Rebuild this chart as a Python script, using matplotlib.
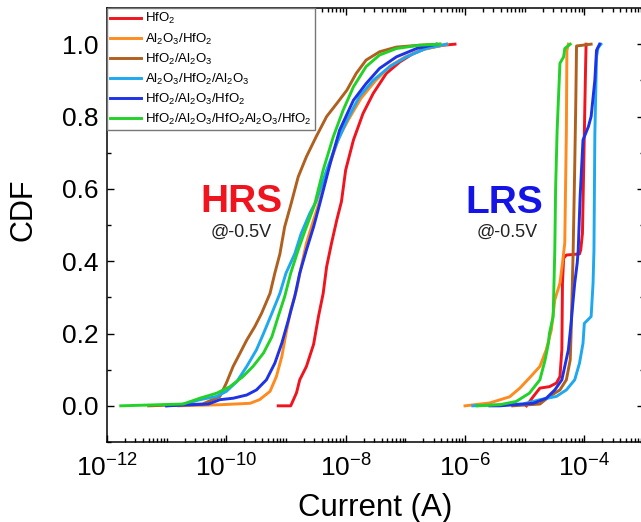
import matplotlib
matplotlib.use("Agg")
import matplotlib.pyplot as plt
from matplotlib.ticker import LogLocator, MultipleLocator, NullFormatter

plt.rcParams['font.family'] = ['Liberation Sans', 'DejaVu Sans']
plt.rcParams['mathtext.fontset'] = 'custom'
plt.rcParams['mathtext.rm'] = 'Liberation Sans'
plt.rcParams['mathtext.it'] = 'Liberation Sans:italic'
plt.rcParams['mathtext.bf'] = 'Liberation Sans:bold'

# stack names, legend order
labels = [
    r'HfO$_2$',
    r'Al$_2$O$_3$/HfO$_2$',
    r'HfO$_2$/Al$_2$O$_3$',
    r'Al$_2$O$_3$/HfO$_2$/Al$_2$O$_3$',
    r'HfO$_2$/Al$_2$O$_3$/HfO$_2$',
    r'HfO$_2$/Al$_2$O$_3$/HfO$_2$Al$_2$O$_3$/HfO$_2$',
]
colors = ['#f0141e', '#ff8a1e', '#b0601e', '#1ea8f0', '#1e32e6', '#22d228']

# HRS read current (A) and CDF at -0.5 V
hfo2_hrs_i = [7.4e-10, 1.2e-9, 1.5e-9, 1.7e-9, 2.2e-9, 2.9e-9, 3.5e-9, 4.2e-9, 4.8e-9,
              5.8e-9, 7.1e-9, 8.5e-9, 1.0e-8, 1.35e-8, 1.95e-8, 2.9e-8, 4.8e-8, 8.1e-8,
              1.35e-7, 2.2e-7, 4.3e-7, 6.8e-7]
hfo2_hrs_cdf = [0, 0, .036, .072, .109, .17, .247, .311, .385, .45, .514, .565, .652,
                .735, .808, .864, .919, .951, .974, .988, .997, 1.0]

ah_hrs_i = [1.6e-11, 7.8e-11, 2.5e-10, 3.6e-10, 5.4e-10, 6.9e-10, 8.5e-10, 1.0e-9, 1.2e-9,
            1.5e-9, 1.8e-9, 2.2e-9, 2.9e-9, 3.7e-9, 5.0e-9, 7.6e-9, 1.1e-8, 1.8e-8,
            3.2e-8, 5.6e-8, 1.0e-7, 2.0e-7, 5.0e-7]
ah_hrs_cdf = [0, .003, .007, .017, .04, .081, .136, .20, .265, .32, .385, .45, .514,
              .569, .65, .74, .79, .85, .90, .94, .965, .985, 1.0]

ha_hrs_i = [5.0e-12, 4.0e-11, 7.8e-11, 1.0e-10, 1.3e-10, 1.7e-10, 2.2e-10, 3.0e-10,
            3.9e-10, 5.4e-10, 6.5e-10, 7.9e-10, 9.5e-10, 1.2e-9, 1.6e-9, 2.2e-9, 3.2e-9,
            4.8e-9, 7.1e-9, 1.05e-8, 1.5e-8, 2.2e-8, 3.7e-8, 7.1e-8, 1.7e-7, 3.8e-7]
ha_hrs_cdf = [0, .005, .026, .063, .109, .146, .182, .219, .256, .311, .367, .42, .495,
              .555, .633, .689, .744, .80, .836, .873, .919, .956, .979, .992, .997, 1.0]

aha_hrs_i = [1.0e-11, 2.0e-11, 3.6e-11, 6.9e-11, 1.0e-10, 1.5e-10, 2.2e-10, 3.2e-10,
             4.2e-10, 5.8e-10, 7.9e-10, 1.0e-9, 1.4e-9, 1.8e-9, 2.5e-9, 3.2e-9, 4.8e-9,
             7.1e-9, 1.05e-8, 1.7e-8, 2.9e-8, 5.5e-8, 1.05e-7, 2.2e-7, 4.9e-7]
aha_hrs_cdf = [0, .005, .017, .026, .04, .067, .109, .155, .20, .256, .311, .367, .42,
               .477, .532, .565, .652, .726, .79, .855, .90, .938, .965, .988, 1.0]

hah_hrs_i = [1.0e-11, 5.0e-11, 7.8e-11, 1.3e-10, 2.2e-10, 3.2e-10, 4.7e-10, 6.5e-10,
             8.5e-10, 1.1e-9, 1.4e-9, 1.7e-9, 2.2e-9, 2.9e-9, 3.7e-9, 5.5e-9, 7.9e-9,
             1.35e-8, 2.2e-8, 3.7e-8, 7.1e-8, 1.55e-7, 3.3e-7]
hah_hrs_cdf = [0, .005, .017, .021, .03, .044, .072, .118, .173, .238, .302, .367, .431,
               .495, .56, .67, .762, .845, .891, .933, .965, .988, 1.0]

hahah_hrs_i = [1.7e-12, 1.9e-11, 3.6e-11, 6.9e-11, 1.15e-10, 1.9e-10, 2.8e-10, 4.2e-10,
               5.8e-10, 7.4e-10, 9.5e-10, 1.2e-9, 1.6e-9, 2.1e-9, 3.0e-9, 4.2e-9, 6.2e-9,
               9.1e-9, 1.35e-8, 2.2e-8, 3.7e-8, 7.1e-8, 1.7e-7, 3.8e-7]
hahah_hrs_cdf = [0, .005, .021, .035, .053, .081, .109, .146, .191, .247, .302, .367,
                 .431, .486, .555, .652, .744, .818, .882, .938, .97, .988, .997, 1.0]

# LRS read current (A) and CDF at -0.5 V
hfo2_lrs_i = [1.07e-5, 1.4e-5, 1.8e-5, 2.6e-5, 3.4e-5, 3.9e-5, 4.2e-5, 4.3e-5, 4.5e-5,
              5.0e-5, 8.3e-5, 8.7e-5, 9.3e-5, 1.0e-4, 1.05e-4, 1.07e-4]
hfo2_lrs_cdf = [0, .026, .049, .053, .063, .081, .155, .339, .408, .417, .42, .431,
                .477, .753, .938, 1.0]

ah_lrs_i = [1.0e-6, 2.6e-6, 5.6e-6, 8.3e-6, 1.2e-5, 1.8e-5, 2.3e-5, 2.8e-5, 3.2e-5,
            3.9e-5, 4.3e-5, 4.7e-5, 5.0e-5, 5.1e-5, 5.4e-5]
ah_lrs_cdf = [0, .008, .025, .049, .077, .109, .155, .21, .293, .339, .395, .45, .76,
              .983, 1.0]

ha_lrs_i = [6.3e-6, 1.8e-5, 2.6e-5, 3.9e-5, 5.0e-5, 5.8e-5, 6.0e-5, 6.3e-5, 6.5e-5,
            6.9e-5, 7.2e-5, 7.4e-5, 1.3e-4]
ha_lrs_cdf = [0, .005, .026, .044, .072, .127, .20, .339, .431, .661, .845, .995, 1.0]

aha_lrs_i = [1.35e-6, 9.3e-6, 1.8e-5, 3.4e-5, 5.0e-5, 6.9e-5, 8.3e-5, 9.5e-5, 1.0e-4,
             1.15e-4, 1.3e-4, 1.4e-4, 1.45e-4, 1.5e-4, 1.6e-4, 1.7e-4, 1.9e-4]
aha_lrs_cdf = [0, .005, .017, .026, .044, .072, .118, .173, .228, .238, .247, .339,
               .431, .75, .965, .99, 1.0]

hah_lrs_i = [2.6e-6, 3.8e-6, 1.4e-5, 2.3e-5, 3.2e-5, 4.2e-5, 4.7e-5, 5.4e-5, 6.0e-5,
             6.5e-5, 6.9e-5, 7.6e-5, 7.9e-5, 8.5e-5, 9.5e-5, 1.17e-4, 1.3e-4, 1.5e-4,
             1.6e-4, 1.8e-4]
hah_lrs_cdf = [0, 0, .007, .021, .044, .072, .109, .155, .228, .293, .339, .395, .431,
               .578, .735, .772, .80, .90, .983, 1.0]

hahah_lrs_i = [1.6e-6, 3.8e-6, 7.2e-6, 1.2e-5, 1.8e-5, 2.2e-5, 2.5e-5, 2.6e-5, 3.0e-5,
               3.1e-5, 3.2e-5, 3.3e-5, 3.5e-5, 3.9e-5, 4.5e-5, 4.7e-5, 5.8e-5]
hahah_lrs_cdf = [0, .003, .012, .035, .072, .127, .173, .20, .247, .339, .431, .60,
                 .762, .947, .965, .988, 1.0]

hrs_i = [hfo2_hrs_i, ah_hrs_i, ha_hrs_i, aha_hrs_i, hah_hrs_i, hahah_hrs_i]
hrs_cdf = [hfo2_hrs_cdf, ah_hrs_cdf, ha_hrs_cdf, aha_hrs_cdf, hah_hrs_cdf, hahah_hrs_cdf]
lrs_i = [hfo2_lrs_i, ah_lrs_i, ha_lrs_i, aha_lrs_i, hah_lrs_i, hahah_lrs_i]
lrs_cdf = [hfo2_lrs_cdf, ah_lrs_cdf, ha_lrs_cdf, aha_lrs_cdf, hah_lrs_cdf, hahah_lrs_cdf]

fig = plt.figure(figsize=(6.41, 5.22), dpi=100)
# right spine sits just past the edge of the canvas
ax = fig.add_axes([107 / 641, 80 / 522, 537 / 641, 434 / 522])

for k in range(len(labels)):
    ax.plot(hrs_i[k], hrs_cdf[k], color=colors[k], lw=2.1, label=labels[k])
    ax.plot(lrs_i[k], lrs_cdf[k], color=colors[k], lw=2.1)

ax.set_xscale('log')
ax.set_xlim(1e-12, 1e-3)
ax.set_ylim(-0.1, 1.1)
ax.set_xticks([1e-12, 1e-10, 1e-8, 1e-6, 1e-4])
ax.xaxis.set_minor_locator(LogLocator(base=10, subs=range(1, 10), numticks=200))
ax.xaxis.set_minor_formatter(NullFormatter())
ax.yaxis.set_major_locator(MultipleLocator(0.2))
ax.yaxis.set_minor_locator(MultipleLocator(0.1))

ax.tick_params(which='both', direction='in', top=True, right=True, width=1.0)
ax.tick_params(which='major', length=5, labelsize=19)
ax.tick_params(axis='y', which='major', pad=6)
ax.tick_params(axis='x', which='major', pad=9)
ax.tick_params(which='minor', length=2.8)
for sp in ax.spines.values():
    sp.set_linewidth(1.1)

ax.set_xlabel('Current (A)', fontsize=22.5, labelpad=8)
ax.set_ylabel('CDF', fontsize=22)
ax.yaxis.set_label_coords(-0.128, 0.535)

ax.text(1.8e-10, 0.536, 'HRS', color='#f0141e', fontsize=28, fontweight='bold',
        ha='center', va='baseline')
ax.text(1.76e-10, 0.467, '@-0.5V', color='#222222', fontsize=13, ha='center', va='baseline')
ax.text(4.6e-6, 0.533, 'LRS', color='#1414e6', fontsize=28, fontweight='bold',
        ha='center', va='baseline')
ax.text(5.0e-6, 0.467, '@-0.5V', color='#222222', fontsize=13, ha='center', va='baseline')

leg = ax.legend(loc='upper left', bbox_to_anchor=(0, 1), borderaxespad=0,
                fontsize=9.5, frameon=True, fancybox=False, handlelength=2.35,
                handletextpad=0.3, labelspacing=0.38, borderpad=0.25)
leg.get_frame().set_edgecolor('#777777')
leg.get_frame().set_linewidth(1.0)
leg.get_frame().set_alpha(1)

fig.savefig('out.png', dpi=100)
